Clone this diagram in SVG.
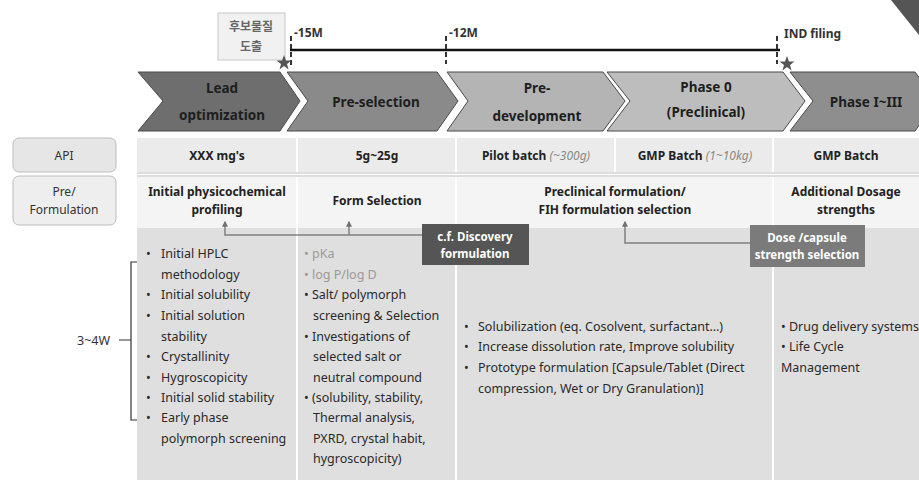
<svg xmlns="http://www.w3.org/2000/svg" width="919" height="480" viewBox="0 0 919 480">
<defs>
<style>
text{font-family:"Noto Sans","Open Sans","Liberation Sans",sans-serif;fill:#2a2a2a}
.b{font-weight:bold}
.ch{font-size:13.5px;font-weight:bold;fill:#1e1e1e;text-anchor:middle}
.hd{font-size:12px;font-weight:bold;text-anchor:middle;fill:#222}
.it{font-style:italic;font-weight:normal;fill:#888}
.tx{font-size:12.5px;fill:#333}
.gr{fill:#9a9a9a}
.lab{font-size:12px;text-anchor:middle;fill:#333}
.kr{font-family:"Noto Sans CJK KR","Noto Sans",sans-serif;font-size:12px;font-weight:bold;text-anchor:middle;fill:#666}
.tl{font-size:12px;font-weight:bold;fill:#333}
.wb{font-size:11.5px;font-weight:bold;fill:#fff;text-anchor:middle}
.chev{stroke:#4a4a4a;stroke-width:1}
.conn{fill:none;stroke:#808080;stroke-width:1.5}
.dash{stroke:#333;stroke-width:2;stroke-dasharray:5,3}
</style>
<marker id="ah" viewBox="0 0 10 10" refX="8" refY="5" markerWidth="4" markerHeight="4" orient="auto-start-reverse"><path d="M0,0L10,5L0,10z" fill="#707070"/></marker>
</defs>
<rect width="919" height="480" fill="#fff"/>
<polygon points="891,0 919,0 919,35" fill="#555"/>

<g id="candidate">
<rect x="218" y="13" width="67" height="47" fill="#f1f1f1" stroke="#c8c8c8"/>
<text x="251" y="31" class="kr">후보물질</text>
<text x="251" y="51" class="kr">도출</text>
</g>

<g id="timeline">
<line x1="290" y1="50" x2="780" y2="50" stroke="#111" stroke-width="2.5"/>
<line x1="291" y1="36" x2="291" y2="66" class="dash"/>
<line x1="446" y1="36" x2="446" y2="64" class="dash"/>
<line x1="777" y1="36" x2="777" y2="64" class="dash"/>
<text x="294" y="37" class="tl">-15M</text>
<text x="449" y="37" class="tl">-12M</text>
<text x="784" y="38" class="tl">IND filing</text>
<polygon points="284,55 286,60.5 291.5,60.5 287,64 288.5,69.5 284,66 279.5,69.5 281,64 276.5,60.5 282,60.5" fill="#555"/>
<polygon points="787,56 789,61.5 794.5,61.5 790,65 791.5,70.5 787,67 782.5,70.5 784,65 779.5,61.5 785,61.5" fill="#555"/>
</g>

<g id="lead-optimization">
<polygon class="chev" points="138,72 280,72 300,101 280,131 138,131 163,101" fill="#6e6e6e"/>
<text x="222" y="93" class="ch">Lead</text>
<text x="222" y="120" class="ch">optimization</text>
</g>
<g id="pre-selection">
<polygon class="chev" points="287,72 437,72 458,101 437,131 287,131 308,101" fill="#8a8a8a"/>
<text x="376" y="107" class="ch">Pre-selection</text>
</g>
<g id="pre-development">
<polygon class="chev" points="447,72 603,72 625,101 603,131 447,131 468,101" fill="#b4b4b4"/>
<text x="537" y="93" class="ch">Pre-</text>
<text x="537" y="121" class="ch">development</text>
</g>
<g id="phase0">
<polygon class="chev" points="607,72 783,72 805,101 783,131 607,131 630,101" fill="#bdbdbd"/>
<text x="706" y="92" class="ch">Phase 0</text>
<text x="706" y="117" class="ch">(Preclinical)</text>
</g>
<g id="phase1-3">
<polygon class="chev" points="790,72 915,72 937,101 915,131 790,131 813,101" fill="#8e8e8e"/>
<text x="866" y="107" class="ch">Phase I~III</text>
</g>

<g id="row-labels">
<rect x="13" y="138" width="103" height="34" rx="6" fill="#e6e6e6" stroke="#bdbdbd"/>
<text x="64" y="160" class="lab">API</text>
<rect x="13" y="176" width="103" height="49" rx="6" fill="#eeeeee" stroke="#bdbdbd"/>
<text x="64" y="196" class="lab">Pre/</text>
<text x="64" y="214" class="lab">Formulation</text>
</g>

<g id="table">
<rect x="137" y="138" width="782" height="34" fill="#ebebeb"/>
<rect x="137" y="177" width="782" height="51" fill="#f4f4f4"/>
<line x1="137" y1="173" x2="919" y2="173" stroke="#bdbdbd"/>
<line x1="137" y1="176" x2="919" y2="176" stroke="#bdbdbd"/>
<rect x="137" y="228" width="782" height="252" fill="#dfdfdf"/>
<g stroke="#fff" stroke-width="2">
<line x1="297" y1="138" x2="297" y2="172"/>
<line x1="456" y1="138" x2="456" y2="172"/>
<line x1="615" y1="138" x2="615" y2="172"/>
<line x1="773" y1="138" x2="773" y2="172"/>
<line x1="297" y1="177" x2="297" y2="480"/>
<line x1="456" y1="177" x2="456" y2="228"/>
<line x1="456" y1="228" x2="456" y2="480"/>
<line x1="773" y1="177" x2="773" y2="480"/>
</g>
</g>

<g id="api-row">
<text x="217" y="160" class="hd">XXX mg's</text>
<text x="377" y="160" class="hd">5g~25g</text>
<text x="536" y="160" class="hd">Pilot batch <tspan class="it">(~300g)</tspan></text>
<text x="695" y="160" class="hd">GMP Batch <tspan class="it">(1~10kg)</tspan></text>
<text x="846" y="160" class="hd">GMP Batch</text>
</g>

<g id="formulation-row">
<text x="217" y="196" class="hd">Initial physicochemical</text>
<text x="217" y="214" class="hd">profiling</text>
<text x="377" y="205" class="hd">Form Selection</text>
<text x="615" y="196" class="hd">Preclinical formulation/</text>
<text x="615" y="214" class="hd">FIH formulation selection</text>
<text x="846" y="196" class="hd">Additional Dosage</text>
<text x="846" y="214" class="hd">strengths</text>
</g>

<g id="connectors">
<path class="conn" d="M422,235 H225 V222" marker-end="url(#ah)"/>
<path class="conn" d="M349,235 V222" marker-end="url(#ah)"/>
<path class="conn" d="M750,243 H625 V222" marker-end="url(#ah)"/>
</g>

<g id="cf-discovery">
<rect x="422" y="224" width="107" height="41" fill="#555"/>
<text x="475" y="241" class="wb">c.f. Discovery</text>
<text x="475" y="258" class="wb">formulation</text>
</g>
<g id="dose-capsule">
<rect x="750" y="225" width="115" height="42" fill="#7b7b7b"/>
<text x="807" y="242" class="wb">Dose /capsule</text>
<text x="807" y="259" class="wb">strength selection</text>
</g>

<g id="col1" class="tx">
<text x="146" y="258">•</text><text x="161" y="258">Initial HPLC</text>
<text x="161" y="279">methodology</text>
<text x="146" y="299">•</text><text x="161" y="299">Initial solubility</text>
<text x="146" y="320">•</text><text x="161" y="320">Initial solution</text>
<text x="161" y="341">stability</text>
<text x="146" y="361">•</text><text x="161" y="361">Crystallinity</text>
<text x="146" y="382">•</text><text x="161" y="382">Hygroscopicity</text>
<text x="146" y="402">•</text><text x="161" y="402">Initial solid stability</text>
<text x="146" y="422">•</text><text x="161" y="422">Early phase</text>
<text x="161" y="443">polymorph screening</text>
</g>

<g id="col2" class="tx">
<text x="304" y="258" class="gr">• pKa</text>
<text x="304" y="279" class="gr">• log P/log D</text>
<text x="304" y="299">• Salt/ polymorph</text>
<text x="313" y="320">screening  &amp; Selection</text>
<text x="304" y="341">• Investigations of</text>
<text x="313" y="361">selected salt or</text>
<text x="313" y="382">neutral compound</text>
<text x="304" y="402">• (solubility, stability,</text>
<text x="313" y="422">Thermal analysis,</text>
<text x="313" y="443">PXRD, crystal habit,</text>
<text x="313" y="463">hygroscopicity)</text>
</g>

<g id="col3" class="tx">
<text x="464" y="331">•</text><text x="478" y="331">Solubilization (eq. Cosolvent, surfactant…)</text>
<text x="464" y="351">•</text><text x="478" y="351">Increase dissolution rate, Improve solubility</text>
<text x="464" y="372">•</text><text x="478" y="372">Prototype formulation [Capsule/Tablet (Direct</text>
<text x="478" y="393">compression, Wet or Dry Granulation)]</text>
</g>

<g id="col4" class="tx">
<text x="781" y="331">• Drug delivery systems</text>
<text x="781" y="351">• Life Cycle</text>
<text x="781" y="372">Management</text>
</g>

<g id="duration">
<path d="M137,262 H131 V420 H137 M131,340 H119" fill="none" stroke="#333" stroke-width="1.2"/>
<text x="77" y="345" class="tx">3~4W</text>
</g>
</svg>
